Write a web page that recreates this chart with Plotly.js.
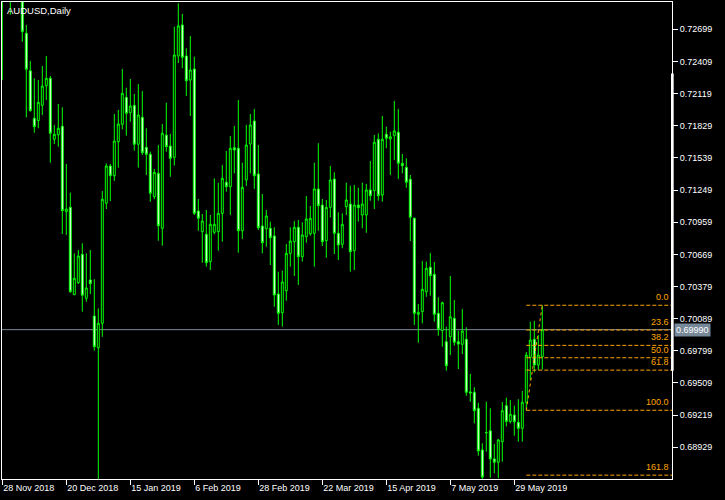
<!DOCTYPE html>
<html><head><meta charset="utf-8">
<script src="https://cdn.plot.ly/plotly-3.0.1.min.js"></script>
<style>html,body{margin:0;padding:0;background:#000;}#chart{width:725px;height:500px;}</style>
</head><body><div id="chart"></div>
<script>
const dates = [
'2018-11-28','2018-11-29','2018-11-30',
'2018-12-03','2018-12-04','2018-12-05','2018-12-06','2018-12-07',
'2018-12-10','2018-12-11','2018-12-12','2018-12-13','2018-12-14',
'2018-12-17','2018-12-18','2018-12-19','2018-12-20','2018-12-21',
'2018-12-24','2018-12-26','2018-12-27','2018-12-28','2018-12-31',
'2019-01-02','2019-01-03','2019-01-04',
'2019-01-07','2019-01-08','2019-01-09','2019-01-10','2019-01-11',
'2019-01-14','2019-01-15','2019-01-16','2019-01-17','2019-01-18',
'2019-01-21','2019-01-22','2019-01-23','2019-01-24','2019-01-25',
'2019-01-28','2019-01-29','2019-01-30','2019-01-31','2019-02-01',
'2019-02-04','2019-02-05','2019-02-06','2019-02-07','2019-02-08',
'2019-02-11','2019-02-12','2019-02-13','2019-02-14','2019-02-15',
'2019-02-18','2019-02-19','2019-02-20','2019-02-21','2019-02-22',
'2019-02-25','2019-02-26','2019-02-27','2019-02-28','2019-03-01',
'2019-03-04','2019-03-05','2019-03-06','2019-03-07','2019-03-08',
'2019-03-11','2019-03-12','2019-03-13','2019-03-14','2019-03-15',
'2019-03-18','2019-03-19','2019-03-20','2019-03-21','2019-03-22',
'2019-03-25','2019-03-26','2019-03-27','2019-03-28','2019-03-29',
'2019-04-01','2019-04-02','2019-04-03','2019-04-04','2019-04-05',
'2019-04-08','2019-04-09','2019-04-10','2019-04-11','2019-04-12',
'2019-04-15','2019-04-16','2019-04-17','2019-04-18','2019-04-19',
'2019-04-22','2019-04-23','2019-04-24','2019-04-25','2019-04-26',
'2019-04-29','2019-04-30','2019-05-01','2019-05-02','2019-05-03',
'2019-05-06','2019-05-07','2019-05-08','2019-05-09','2019-05-10',
'2019-05-13','2019-05-14','2019-05-15','2019-05-16','2019-05-17',
'2019-05-20','2019-05-21','2019-05-22','2019-05-23','2019-05-24',
'2019-05-27','2019-05-28','2019-05-29','2019-05-30','2019-05-31',
'2019-06-03','2019-06-04','2019-06-05','2019-06-06','2019-06-07'];

const opens = [
0.7300,0.7315,0.7320,0.7310,0.7370,0.7325,0.72663,0.72325,0.71896,0.71875,
0.72013,0.72190,0.72257,0.71707,0.71748,0.71824,0.71054,0.71093,0.70305,0.70413,
0.70669,0.70273,0.70438,0.70113,0.69827,0.70047,0.71130,0.71466,0.71378,0.71685,
0.71842,0.72085,0.71947,0.72013,0.71662,0.71905,0.71634,0.71571,0.71189,0.71400,
0.70904,0.71745,0.71646,0.71544,0.72458,0.72738,0.72458,0.72241,0.72341,0.71060,
0.70873,0.70850,0.70603,0.70868,0.70873,0.71039,0.71319,0.71279,0.71631,0.71626,
0.70882,0.71340,0.71664,0.71872,0.71394,0.70925,0.70900,0.70904,0.70835,0.70311,
0.70143,0.70341,0.70678,0.70783,0.70913,0.70648,0.70828,0.70853,0.70859,0.71259,
0.71114,0.70792,0.71093,0.71349,0.70859,0.70760,0.71099,0.71123,0.70702,0.71114,
0.71024,0.71024,0.71250,0.71243,0.71707,0.71204,0.71752,0.71710,0.71739,0.71770,
0.71490,0.71454,0.71346,0.70995,0.70128,0.70152,0.70332,0.70552,0.70489,0.70137,
0.69981,0.69881,0.69926,0.70092,0.69881,0.69858,0.69903,0.69428,0.69425,0.69281,
0.68905,0.69063,0.69078,0.68824,0.68794,0.68980,0.69304,0.69162,0.69220,0.69154,
0.69100,0.69335,0.69741,0.69903,0.69671,0.69745];

const highs = [
0.7330,0.7340,0.7330,0.7394,0.7380,0.7335,0.72738,0.72413,0.72257,0.72241,
0.72368,0.72458,0.72278,0.71836,0.72025,0.71995,0.71484,0.71225,0.70678,0.70708,
0.70769,0.70678,0.70708,0.70444,0.70182,0.71240,0.71490,0.71484,0.71935,0.71971,
0.72341,0.72172,0.72251,0.72115,0.72205,0.72142,0.71806,0.71595,0.71439,0.71655,
0.71845,0.72037,0.71755,0.72722,0.72933,0.72837,0.72527,0.72638,0.72452,0.71168,
0.71033,0.71069,0.71024,0.71355,0.71315,0.71475,0.71601,0.71736,0.71827,0.72061,
0.71496,0.71836,0.71935,0.71980,0.71655,0.71213,0.71069,0.70964,0.70913,0.70513,
0.70522,0.70762,0.70913,0.70970,0.70979,0.70958,0.71195,0.71105,0.71496,0.71671,
0.71168,0.71159,0.71466,0.71409,0.71048,0.71039,0.71315,0.71288,0.71295,0.71270,
0.71315,0.71304,0.71511,0.71746,0.71760,0.71917,0.71820,0.71775,0.72052,0.71980,
0.71574,0.71535,0.71385,0.71000,0.70222,0.70609,0.70603,0.70681,0.70600,0.70282,
0.70242,0.70016,0.70474,0.70257,0.69981,0.70176,0.70011,0.69590,0.69470,0.69331,
0.68965,0.69340,0.69281,0.68959,0.69004,0.69337,0.69376,0.69355,0.69304,0.69362,
0.69437,0.69788,0.70061,0.70070,0.69941,0.70210];

const lows = [
0.7224,0.7300,0.7283,0.7305,0.7310,0.72587,0.71905,0.71956,0.71766,0.71806,
0.71926,0.72061,0.71496,0.71664,0.71640,0.70853,0.70844,0.70323,0.70302,0.70402,
0.70152,0.70242,0.70311,0.69800,0.6740,0.69926,0.71078,0.71150,0.71331,0.71451,
0.71797,0.71739,0.71865,0.71604,0.71451,0.71565,0.71385,0.71144,0.71166,0.70792,
0.70747,0.71595,0.71369,0.71469,0.72395,0.72347,0.72097,0.71917,0.71024,0.70882,
0.70594,0.70558,0.70528,0.70850,0.70702,0.70783,0.71234,0.71024,0.71400,0.70684,
0.70808,0.71286,0.71400,0.71259,0.70889,0.70679,0.70738,0.70573,0.70197,0.70032,
0.70017,0.70251,0.70558,0.70474,0.70393,0.70603,0.70774,0.70837,0.70558,0.70882,
0.70744,0.70639,0.71003,0.70672,0.70618,0.70724,0.71024,0.70513,0.70528,0.70964,
0.70904,0.70864,0.71153,0.71078,0.71153,0.71144,0.71626,0.71385,0.71520,0.71349,
0.71400,0.71270,0.70790,0.70032,0.69872,0.70047,0.70287,0.70296,0.70062,0.69935,
0.69836,0.69620,0.69761,0.69845,0.69635,0.69770,0.69394,0.69340,0.69145,0.68853,
0.68640,0.68889,0.68655,0.68694,0.68650,0.68799,0.69117,0.69144,0.69033,0.68980,
0.68980,0.69263,0.69535,0.69605,0.69626,0.69630];

const closes = [
0.7315,0.7320,0.7310,0.7370,0.7325,0.72677,0.72338,0.71965,0.71820,0.72040,
0.72187,0.72257,0.71761,0.71752,0.71806,0.71063,0.71078,0.70332,0.70453,0.70654,
0.70300,0.70366,0.70404,0.69836,0.70047,0.71166,0.71466,0.71378,0.71691,0.71845,
0.72121,0.71941,0.72007,0.71662,0.71926,0.71586,0.71571,0.71220,0.71409,0.70927,
0.71761,0.71640,0.71535,0.72467,0.72729,0.72446,0.72235,0.72332,0.71039,0.70994,
0.70970,0.70594,0.70940,0.70940,0.71039,0.71355,0.71279,0.71626,0.71610,0.70882,
0.71274,0.71655,0.71836,0.71378,0.70909,0.70774,0.71015,0.70819,0.70302,0.70137,
0.70420,0.70678,0.70789,0.70913,0.70648,0.70844,0.70988,0.70994,0.71259,0.71108,
0.70783,0.71093,0.71340,0.70859,0.70753,0.70940,0.71159,0.70693,0.71114,0.71090,
0.71123,0.71250,0.71198,0.71680,0.71198,0.71707,0.71716,0.71730,0.71782,0.71490,
0.71469,0.71319,0.71004,0.70137,0.70146,0.70354,0.70543,0.70477,0.70128,0.69993,
0.70233,0.69665,0.70106,0.69876,0.69860,0.69978,0.69425,0.69419,0.69259,0.68896,
0.68660,0.69060,0.68824,0.68794,0.68995,0.69259,0.69162,0.69227,0.69159,0.69100,
0.69335,0.69761,0.69896,0.69671,0.69761,0.69990];

const tickDates = ['2018-11-28','2018-12-20','2019-01-15','2019-02-06','2019-02-28','2019-03-22','2019-04-15','2019-05-07','2019-05-29'];
const tickLabels = ['28 Nov 2018','20 Dec 2018','15 Jan 2019','6 Feb 2019','28 Feb 2019','22 Mar 2019','15 Apr 2019','7 May 2019','29 May 2019'];
const priceTicks = [0.72699,0.72409,0.72119,0.71829,0.71539,0.71249,0.70959,0.70669,0.70379,0.70089,0.69799,0.69509,0.69219,0.68929];
const fibLevels = [0, 0.236, 0.382, 0.5, 0.618, 1.0, 1.618];
const fibLowIndex = 131;
const fibHighIndex = 135;
const symbolTitle = 'AUDUSD,Daily';

const xRange = [-0.075, 167.425];
const yRange = [0.68643, 0.72945];
const lastPrice = closes[closes.length - 1];
const fibHigh = highs[fibHighIndex];
const fibLow = lows[fibLowIndex];
const FIB = '#FFA500';
const LIME = '#00FF00';
const FONT = 'Liberation Sans, Arial, sans-serif';

const trace = {
  type: 'candlestick', x: dates, open: opens, high: highs, low: lows, close: closes,
  increasing: {line: {color: LIME, width: 1}, fillcolor: '#000000'},
  decreasing: {line: {color: LIME, width: 1}, fillcolor: '#FFFFFF'},
  whiskerwidth: 0, hoverinfo: 'skip', showlegend: false
};

const shapes = [{
  type: 'line', xref: 'paper', yref: 'y', x0: 0, x1: 1, y0: lastPrice, y1: lastPrice,
  line: {color: '#778899', width: 1}, layer: 'below'
}];
const annotations = [{
  xref: 'paper', yref: 'paper', x: 0, y: 1, xanchor: 'left', yanchor: 'top', xshift: 3, yshift: -1,
  text: symbolTitle, showarrow: false, font: {family: FONT, size: 9.5, color: '#FFFFFF'}
}];
fibLevels.forEach(lv => {
  const p = fibHigh - lv * (fibHigh - fibLow);
  shapes.push({type: 'line', xref: 'x', yref: 'y', x0: fibLowIndex, x1: xRange[1], y0: p, y1: p,
    line: {color: FIB, width: 1, dash: '4px,2px'}, layer: 'above'});
  annotations.push({xref: 'paper', yref: 'y', x: 1, y: p, xanchor: 'right', yanchor: 'bottom',
    xshift: -1, yshift: 1, text: (lv * 100).toFixed(1), showarrow: false,
    font: {family: FONT, size: 9, color: FIB}});
});
shapes.push({type: 'line', xref: 'x', yref: 'y', x0: fibLowIndex, x1: fibHighIndex, y0: fibLow, y1: fibHigh,
  line: {color: FIB, width: 1, dash: 'dot'}, layer: 'above'});
shapes.push({type: 'rect', xref: 'paper', yref: 'y', x0: 0.9985, x1: 1.0025, y0: 0.6962, y1: 0.7230,
  fillcolor: '#FFFFFF', line: {width: 0}, layer: 'above'});
annotations.push({xref: 'paper', yref: 'y', x: 1, y: lastPrice, xanchor: 'left', yanchor: 'middle',
  xshift: 2, text: lastPrice.toFixed(5), showarrow: false, bgcolor: '#778899', borderpad: 1,
  font: {family: FONT, size: 9, color: '#FFFFFF'}});

const layout = {
  width: 725, height: 500, margin: {l: 2, r: 53, t: 2, b: 21},
  paper_bgcolor: '#000000', plot_bgcolor: '#000000', showlegend: false,
  font: {family: FONT, size: 9, color: '#FFFFFF'},
  xaxis: {type: 'category', range: xRange, tickvals: tickDates, ticktext: tickLabels,
    ticks: 'outside', ticklen: 5, tickcolor: '#FFFFFF', showline: true, linecolor: '#FFFFFF', linewidth: 1,
    mirror: true, showgrid: false, zeroline: false, rangeslider: {visible: false},
    ticklabelposition: 'outside right', tickfont: {family: FONT, size: 9, color: '#FFFFFF'}, fixedrange: true},
  yaxis: {side: 'right', range: yRange, tickvals: priceTicks, tickformat: '.5f',
    ticks: 'outside', ticklen: 5, tickcolor: '#FFFFFF', showline: true, linecolor: '#FFFFFF', linewidth: 1,
    mirror: true, showgrid: false, zeroline: false, tickfont: {family: FONT, size: 9, color: '#FFFFFF'}, fixedrange: true},
  shapes: shapes, annotations: annotations, hovermode: false
};
Plotly.newPlot('chart', [trace], layout, {displayModeBar: false, staticPlot: true});
</script></body></html>
